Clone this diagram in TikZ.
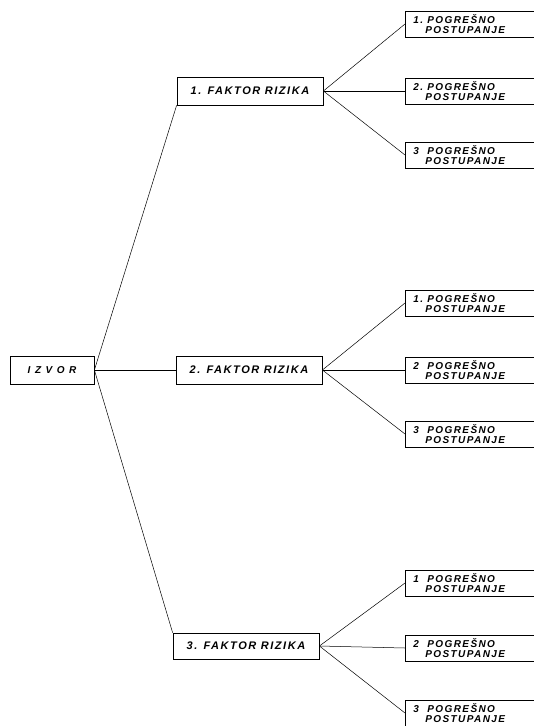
\documentclass[tikz,border=0pt]{standalone}
\usepackage{fontspec}
\newfontfamily\boxfont[LetterSpace=14]{Liberation Sans}
\newfontfamily\wideboxfont[LetterSpace=45]{Liberation Sans}
\usetikzlibrary{positioning}
\newcommand{\pgr}[1]{\makebox[14pt][l]{#1}POGREŠNO\\\hspace*{12pt}POSTUPANJE}

\begin{document}
\begin{tikzpicture}[x=1pt, y=-1pt]
   \tikzstyle{srcnode}=[rectangle, draw, line width=0.8pt, minimum width=84pt, minimum height=28pt, font=\wideboxfont\bfseries\itshape\fontsize{10}{11}\selectfont]
   \tikzstyle{fnode}=[rectangle, draw, line width=0.8pt, minimum width=146pt, minimum height=28pt, font=\boxfont\bfseries\itshape\fontsize{11}{12}\selectfont]
   \tikzstyle{enode}=[rectangle, draw, line width=0.8pt, anchor=west, minimum height=26pt, text width=140pt, inner xsep=8pt, inner ysep=2pt, align=left, font=\boxfont\bfseries\itshape\fontsize{10}{10}\selectfont]
   \tikzstyle{link}=[line width=0.5pt]

   \useasboundingbox (0, 0) rectangle (534, 726);
   \clip (0, 0) rectangle (534, 726);

   % source node
   \draw (52, 370) node[srcnode] (izvor) {IZVOR};
   % factor nodes
   \draw (250, 91) node[fnode] (f1) {1. FAKTOR RIZIKA};
   \draw (249, 370) node[fnode] (f2) {2. FAKTOR RIZIKA};
   \draw (246, 646) node[fnode, minimum height=26pt] (f3) {3. FAKTOR RIZIKA};
   % factor 1 error nodes
   \draw (405, 24) node[enode] (e11) {\pgr{1.}};
   \draw (405, 91) node[enode] (e12) {\pgr{2.}};
   \draw (405, 155) node[enode] (e13) {\pgr{3}};
   % factor 2 error nodes
   \draw (405, 303) node[enode] (e21) {\pgr{1.}};
   \draw (405, 370) node[enode] (e22) {\pgr{2}};
   \draw (405, 434) node[enode] (e23) {\pgr{3}};
   % factor 3 error nodes
   \draw (405, 583) node[enode] (e31) {\pgr{1}};
   \draw (405, 648) node[enode] (e32) {\pgr{2}};
   \draw (405, 713) node[enode] (e33) {\pgr{3}};

   % source to factors
   \draw[link] (izvor.east) -- (f1.south west);
   \draw[link] (izvor.east) -- (f2.west);
   \draw[link] (izvor.east) -- (f3.north west);
   % factor 1 to errors
   \draw[link] (f1.east) -- (e11.west);
   \draw[link] (f1.east) -- (e12.west);
   \draw[link] (f1.east) -- (e13.west);
   % factor 2 to errors
   \draw[link] (f2.east) -- (e21.west);
   \draw[link] (f2.east) -- (e22.west);
   \draw[link] (f2.east) -- (e23.west);
   % factor 3 to errors
   \draw[link] (f3.east) -- (e31.west);
   \draw[link] (f3.east) -- (e32.west);
   \draw[link] (f3.east) -- (e33.west);
\end{tikzpicture}
\end{document}
